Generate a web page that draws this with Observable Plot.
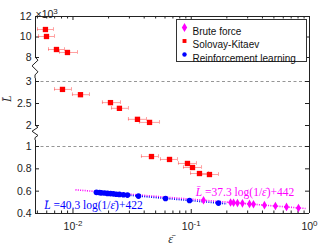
<!DOCTYPE html>
<html><head><meta charset="utf-8">
<script src="https://cdn.jsdelivr.net/npm/d3@7"></script>
<script src="https://cdn.jsdelivr.net/npm/@observablehq/plot@0.6"></script>
<style>body{margin:0;background:#fff}#chart svg{display:block}</style>
</head><body><div id="chart"></div>
<script>
// ---------- data (L in thousands) ----------
const skEps   = [0.00585,0.00597,0.00725,0.00898,0.00815,0.01157,0.02075,0.0247,0.0351,0.0444,0.0461,0.0655,0.0929,0.1025,0.1174,0.1426];
const skLen   = [10.73,10.05,8.78,8.49,2.82,2.70,2.52,2.39,2.14,2.07,0.910,0.884,0.848,0.812,0.758,0.749];
const skEpsLo = [0.00501,0.00511,0.00621,0.00769,0.00698,0.00990,0.01775,0.02118,0.02944,0.03648,0.03793,0.05495,0.07798,0.0860,0.0986,0.1197];
const skEpsHi = [0.00684,0.00698,0.00848,0.01092,0.00971,0.01379,0.02522,0.02944,0.04184,0.05392,0.05284,0.07656,0.1107,0.1222,0.140,0.170];

const rlEps = [0.0158,0.0168,0.0174,0.0185,0.0196,0.0208,0.0220,0.0233,0.0247,0.0267,0.0289,0.0358,0.0606,0.0967,0.170];
const rlLen = [0.589,0.587,0.585,0.583,0.580,0.578,0.576,0.573,0.571,0.568,0.565,0.556,0.535,0.516,0.493];

const bfEps = [0.127,0.215,0.228,0.246,0.271,0.311,0.336,0.416,0.515,0.639,0.807];
const bfLen = [0.519,0.499,0.497,0.494,0.491,0.486,0.483,0.475,0.467,0.459,0.450];

// fits: L = a*ln(1/eps)+b
const fitNames = ["Brute force","Reinforcement learning"];
const fitSlope = [37.3, 40.3];
const fitIntercept = [442, 422];
const fitEpsRange = [[0.0105, 0.925],[0.015, 0.2]];
const fitColors = ["#ff00ff","#0000ff"];
const fitLabels = ["L̄ =37.3 log(1/ε̄)+442","L̄ =40.3 log(1/ε̄)+422"];
const fitLabelPos = [[0.285, 0.594],[0.0149, 0.470]];

const legendNames = ["Brute force","Solovay-Kitaev","Reinforcement learning"];
const legendColors = ["#ff00ff","#ff0000","#0000ff"];
const legendSymbols = ["diamond","square","circle"];

// broken y axis
const yBreakValues = [0.4, 1, 2, 3, 8, 12];
const yBreakPos    = [0, 67, 88, 132, 156, 197];
const yTickVals = [0.4,0.6,0.8,1,2,2.5,3,8,10,12];
const yTickLabels = ["0.4","0.6","0.8","1","2","2.5","3","8","10","12"];
const dashedVals = [1, 3];
const axisSegments = [[0.4,1.29],[2,3.6],[8,12]];
const zigzags = [[1.29,2],[3.6,8]];

const xMajor = [0.01,0.1,1];
const xMinor = [0.005,0.006,0.007,0.008,0.009,0.02,0.03,0.04,0.05,0.06,0.07,0.08,0.09,0.2,0.3,0.4,0.5,0.6,0.7,0.8,0.9];
const xDomain = [0.00482, 1];

const T = d3.scaleLinear().domain(yBreakValues).range(yBreakPos);

const sk = skEps.map((e,i)=>({e, L:skLen[i], lo:skEpsLo[i], hi:skEpsHi[i]}));
const rl = rlEps.map((e,i)=>({e, L:rlLen[i]}));
const bf = bfEps.map((e,i)=>({e, L:bfLen[i]}));
const fits = fitNames.flatMap((n,k)=>fitEpsRange[k].map(e=>({k, e, L:(fitSlope[k]*Math.log(1/e)+fitIntercept[k])/1000})));

const W=332,H=248,mL=35,mR=23,mT=16,mB=35;
const pw=W-mL-mR, ph=H-mT-mB;
const font = "Liberation Sans, Arial, Helvetica, sans-serif";
const serif = "Liberation Serif, Times New Roman, DejaVu Serif, serif";
const labMap = new Map(yTickVals.map((v,i)=>[T(v), yTickLabels[i]]));

const plot = Plot.plot({
  width:W, height:H, marginLeft:mL, marginRight:mR, marginTop:mT, marginBottom:mB,
  style:{fontFamily:font, fontSize:"10.5px", background:"#fff", color:"#222"},
  x:{type:"log", domain:xDomain},
  y:{type:"linear", domain:[yBreakPos[0], yBreakPos[yBreakPos.length-1]]},
  marks:[
    Plot.ruleY(dashedVals, {y:d=>T(d), stroke:"#8a8a8a", strokeWidth:0.9, strokeDasharray:"3,2.5"}),
    // frame
    Plot.ruleY([T(12)], {stroke:"#222", strokeWidth:1}),
    Plot.ruleY([T(0.4)], {stroke:"#222", strokeWidth:1}),
    Plot.ruleX([xDomain[1]], {stroke:"#222", strokeWidth:1}),
    Plot.ruleX(axisSegments, {x:()=>xDomain[0], y1:d=>T(d[0]), y2:d=>T(d[1]), stroke:"#222", strokeWidth:1}),
    // ticks
    Plot.tickY(yTickVals, {y:d=>T(d), insetRight:pw-4, stroke:"#222"}),
    Plot.tickY(yTickVals, {y:d=>T(d), insetLeft:pw-4, stroke:"#222"}),
    Plot.tickX(xMajor, {x:d=>d, insetTop:ph-4, stroke:"#222"}),
    Plot.tickX(xMajor, {x:d=>d, insetBottom:ph-4, stroke:"#222"}),
    Plot.tickX(xMinor, {x:d=>d, insetTop:ph-2.5, stroke:"#222"}),
    Plot.tickX(xMinor, {x:d=>d, insetBottom:ph-2.5, stroke:"#222"}),
    // fit lines
    Plot.line(fits, {x:"e", y:d=>T(d.L), z:"k", stroke:d=>fitColors[d.k], strokeWidth:1.6, strokeDasharray:"1,1.3", strokeLinecap:"butt"}),
    // SK error bars
    Plot.ruleY(sk, {x1:"lo", x2:"hi", y:d=>T(d.L), stroke:"#ff5050", strokeOpacity:0.55, strokeWidth:1}),
    Plot.ruleX(sk, {x:"lo", y1:d=>T(d.L)-1.8, y2:d=>T(d.L)+1.8, stroke:"#ff5050", strokeOpacity:0.55}),
    Plot.ruleX(sk, {x:"hi", y1:d=>T(d.L)-1.8, y2:d=>T(d.L)+1.8, stroke:"#ff5050", strokeOpacity:0.55}),
    Plot.dot(sk, {x:"e", y:d=>T(d.L), symbol:"square", r:3, fill:"#ff0000", stroke:"none"}),
    Plot.dot(rl, {x:"e", y:d=>T(d.L), r:2.8, fill:"#0000ff", stroke:"none"}),
    Plot.ruleY(bf, {x1:d=>d.e/1.03, x2:d=>d.e*1.03, y:d=>T(d.L), stroke:"#ff00ff", strokeWidth:1}),
    Plot.dot(bf, {x:"e", y:d=>T(d.L), symbol:"diamond", r:2.6, fill:"#ff00ff", stroke:"none"}),
    // fit labels
    Plot.text(fitLabels, {x:(d,i)=>fitLabelPos[i][0], y:(d,i)=>T(fitLabelPos[i][1]), text:d=>d, fill:(d,i)=>fitColors[i], fontFamily:serif, fontSize:11.5, className:"fitlab"}),
    // axes
    Plot.axisY(yTickVals.map(T), {tickSize:0, tickPadding:4, tickFormat:d=>labMap.get(d), fontSize:10.5}),
    Plot.axisX(xMajor, {tickSize:0, tickPadding:9, tickFormat:d=>"10|"+Math.round(Math.log10(d)), fontSize:10.5, className:"xlab"}),
    Plot.text(["L̄"], {frameAnchor:"left", dx:-28, dy:-13, rotate:-90, fontFamily:serif, fontStyle:"italic", fontSize:12, fill:"#222"}),
    Plot.text(["ε̄"], {frameAnchor:"bottom", dx:-2, dy:29, fontFamily:serif, fontStyle:"italic", fontSize:12, fill:"#222"}),
    Plot.text(["×10|3"], {frameAnchor:"top-left", dx:0, dy:-6, textAnchor:"start", fontSize:10.5, fill:"#222", className:"xlab"}),
    // legend
    Plot.frame({insetLeft:141, insetRight:3, insetTop:3, insetBottom:152, fill:"#fff", stroke:"#333", strokeWidth:1}),
    ...legendNames.map((n,i)=>Plot.dot([n], {frameAnchor:"top-left", dx:149, dy:11+13.5*i, symbol:legendSymbols[i], r:i===0?2.8:2.2, fill:legendColors[i]})),
    ...legendNames.map((n,i)=>Plot.text([n], {frameAnchor:"top-left", dx:157, dy:11+13.5*i, text:d=>d, textAnchor:"start", fontSize:10, fill:"#111"}))
  ]
});
document.getElementById("chart").appendChild(plot);

// post-processing: superscripts, italics, axis break zigzags
const svg = d3.select(plot);
svg.selectAll("g.xlab text").each(function(){
  const s = d3.select(this).text();
  if (!s.includes("|")) return;
  const [base, exp] = s.split("|");
  const el = d3.select(this); el.text(null);
  el.append("tspan").text(base);
  el.append("tspan").attr("dy","-0.45em").attr("font-size","8px").text(exp);
});
svg.selectAll("g.fitlab text").each(function(){
  const s = d3.select(this).text();
  const el = d3.select(this); el.text(null);
  s.split(/(L̄|ε̄)/).filter(p=>p).forEach(p=>{
    const t = el.append("tspan").text(p);
    if (p==="L̄"||p==="ε̄") t.attr("font-style","italic");
  });
});
const xs = plot.scale("x"), ys = plot.scale("y");
const x0 = xs.apply(xDomain[0]);
zigzags.forEach(([a,b])=>{
  const yA = ys.apply(T(a)), yB = ys.apply(T(b));
  const h = yA - yB;
  const pts = [[0,0],[3,0.15],[-3,0.42],[3,0.7],[0,0.85],[0,1]].map(([dx,f])=>[x0+dx, yB + f*h]);
  svg.append("path").attr("d", d3.line()(pts)).attr("fill","none").attr("stroke","#222").attr("stroke-width",1);
});
</script></body></html>
